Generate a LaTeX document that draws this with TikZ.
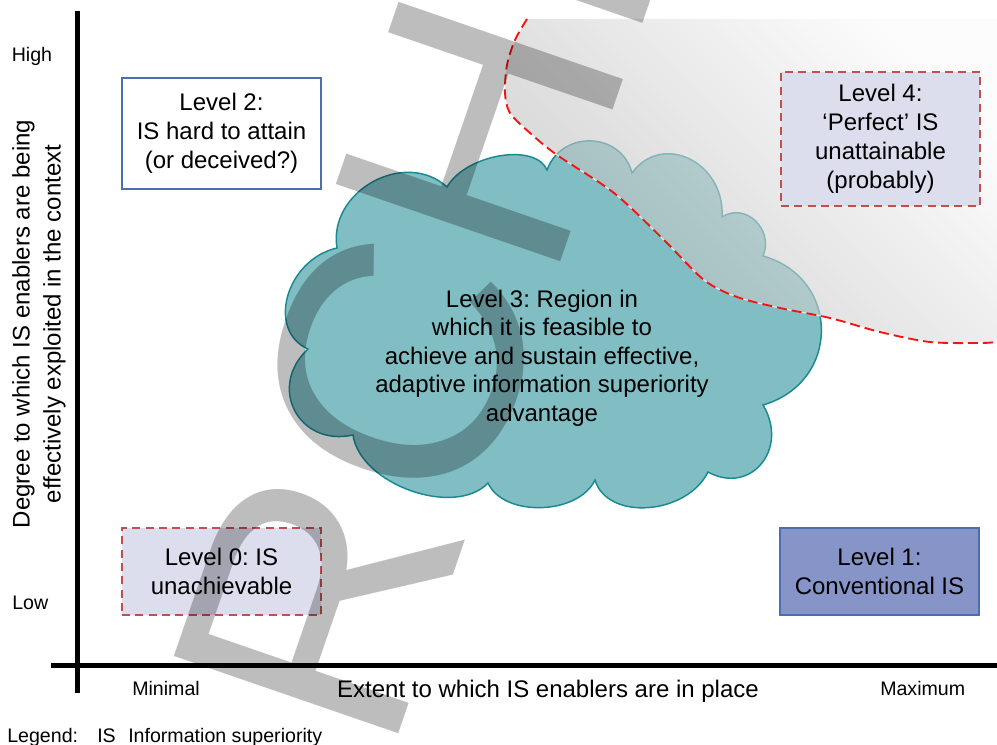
\documentclass[tikz,border=0pt]{standalone}
\usepackage{fontspec}
\setmainfont{Liberation Sans}
\usetikzlibrary{calc}
\frenchspacing

\definecolor{boxblue}{RGB}{78,110,178}
\definecolor{lvlone}{RGB}{135,148,200}
\definecolor{lavender}{RGB}{220,222,238}
\definecolor{dashred}{RGB}{192,80,77}
\definecolor{cloudfill}{RGB}{128,190,195}
\definecolor{cloudline}{RGB}{24,138,148}
\definecolor{rimred}{RGB}{240,20,20}

% one rounded lobe of the cloud: from #1 through the peak #2 to #3
\newcommand\cloudbump[3]{.. controls ($1.333*#2+0.183*#1-0.517*#3$) and ($1.333*#2+0.183*#3-0.517*#1$) .. #3}

\begin{document}
\begin{tikzpicture}[x=0.75pt,y=-0.75pt,
  lbl/.style={font=\fontsize{14.7}{17}\selectfont, inner sep=0pt},
  big/.style={font=\fontsize{18}{21.75}\selectfont, align=center, inner sep=0pt},
  lvlbox/.style={big, draw, line width=1.2pt, minimum width=149.25pt},
  dashbox/.style={lvlbox, draw=dashred, fill=lavender, dash pattern=on 6pt off 4pt},
  axisline/.style={line width=3.75pt}]

\useasboundingbox (0,0) rectangle (997,745);

% axes
\coordinate (ytop) at (77.5,11);
\coordinate (ybot) at (77.5,693);
\coordinate (xl) at (51,665);
\coordinate (xr) at (997,665);
\draw[axisline] (ytop) -- (ybot);
\draw[axisline] (xl) -- (xr);

% axis labels
\node[lbl, anchor=base] (high) at (32,61.5) {High};
\node[lbl, anchor=base west] (low) at (12,609) {Low};
\node[lbl, anchor=base west] (minimal) at (132,695) {Minimal};
\node[lbl, anchor=base west] (maximum) at (880,695) {Maximum};
\node[big, anchor=base] (xtitle) at (548,697) {Extent to which IS enablers are in place};
\node[big, rotate=90, font=\fontsize{18}{23.25}\selectfont] (ytitle) at (39,324)
  {Degree to which IS enablers are being\\effectively exploited in the context};

% legend
\node[lbl, anchor=base west] (leg) at (7,742) {Legend:};
\node[lbl, anchor=base west] (legis) at (97,742) {IS};
\node[lbl, anchor=base west] (legtxt) at (128,742) {Information superiority};

% level boxes
\node[lvlbox, draw=boxblue, fill=white, minimum height=83.25pt] (l2) at (221.5,133.5)
  {Level 2:\\IS hard to attain\\(or deceived?)};
\node[dashbox, minimum height=65.25pt] (l0) at (221.5,571.5) {Level 0: IS\\unachievable};
\node[lvlbox, draw=boxblue, fill=lvlone, minimum height=65.25pt] (l1) at (879.5,571.5)
  {Level 1:\\Conventional IS};

% the cloud of level 3
\filldraw[fill=cloudfill, draw=cloudline, line width=1.1pt]
  (308,349)
  \cloudbump{(308,349)}{(288,296)}{(337,248)}
  \cloudbump{(337,248)}{(373,182)}{(447,187)}
  \cloudbump{(447,187)}{(500,156)}{(547,170)}
  \cloudbump{(547,170)}{(591.5,141)}{(632,173)}
  \cloudbump{(632,173)}{(690,159)}{(722,217)}
  \cloudbump{(722,217)}{(756,221)}{(763,256)}
  \cloudbump{(763,256)}{(822,330.5)}{(763,405)}
  \cloudbump{(763,405)}{(762,464)}{(708,472)}
  \cloudbump{(708,472)}{(648.5,508)}{(595,480)}
  \cloudbump{(595,480)}{(541.5,508)}{(488,483)}
  \cloudbump{(488,483)}{(411,491)}{(353,435)}
  \cloudbump{(353,435)}{(295,411)}{(308,349)}
  -- cycle;
\node[big, font=\fontsize{18}{21.4}\selectfont] (l3) at (542,358)
  {Level 3: Region in\\which it is feasible to\\achieve and sustain effective,\\adaptive information superiority\\advantage};

% unattainable region, shaded and see-through
\shade[top color=black!2, middle color=black!26, bottom color=black!29,
       shading angle=-45, opacity=0.6]
  plot[smooth] coordinates {(527,19) (515,40) (507,65) (505,93) (510,113) (530,133)
    (557,155) (614,193) (664,240) (704,280) (737,297) (780,308) (830,318) (880,332)
    (930,342) (980,343) (997,342)}
  -- (997,19) -- cycle;
\draw[white, line width=0.8pt, opacity=0.7]
  plot[smooth] coordinates {(527,19) (515,40) (507,65) (505,93) (510,113) (530,133)
    (557,155) (614,193) (664,240) (704,280) (737,297) (780,308) (830,318) (880,332)
    (930,342) (980,343) (997,342)};
\draw[rimred, line width=1.4pt, dash pattern=on 7.5pt off 3.75pt]
  plot[smooth] coordinates {(527,19) (515,40) (507,65) (505,93) (510,113) (530,133)
    (557,155) (614,193) (664,240) (704,280) (737,297) (780,308) (830,318) (880,332)
    (930,342) (980,343) (997,342)};

\node[dashbox, minimum height=100.5pt] (l4) at (880.5,139)
  {Level 4:\\‘Perfect’ IS\\unattainable\\(probably)};

% watermark lettering across the page
\node[rotate=71, anchor=base west, inner sep=0pt, outer sep=0pt, text=black,
  text opacity=0.26, font=\fontsize{258.75}{260}\selectfont] (wm) at (389,760) {RCHI};

\end{tikzpicture}
\end{document}
